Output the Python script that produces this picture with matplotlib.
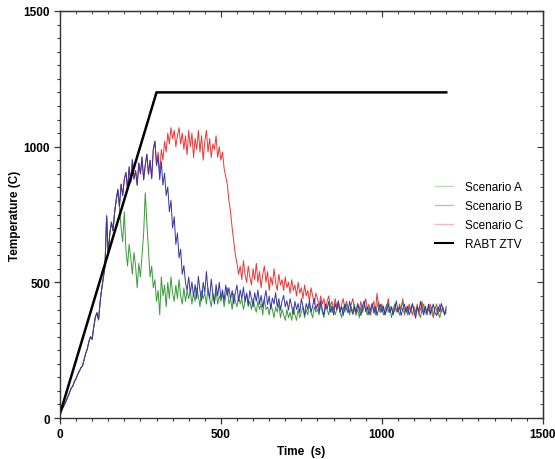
import numpy as np
import matplotlib; matplotlib.use("Agg")
import matplotlib.pyplot as plt
from matplotlib.lines import Line2D
from matplotlib.ticker import MultipleLocator

plt.rcParams["font.family"] = ["Liberation Sans", "DejaVu Sans"]

STEP = 5  # sample spacing of the scenario traces, s

# Scenario B (blue), t = 0, 5, ... 1200 s
scen_b = [
    20, 28, 40, 52, 65, 80, 95, 110, 118, 135,
    145, 160, 172, 185, 192, 215, 238, 255, 282, 300,
    290, 335, 372, 388, 362, 430, 478, 520, 560, 745,
    600, 680, 722, 690, 760, 805, 842, 780, 862, 820,
    880, 905, 842, 925, 868, 952, 880, 912, 858, 940,
    900, 962, 878, 932, 972, 898, 950, 882, 990, 1020,
    930, 962, 878, 945, 858, 902, 820, 852, 760, 802,
    700, 742, 640, 682, 590, 622, 530, 562, 500, 470,
    520, 460, 502, 448, 492, 440, 522, 470, 432, 500,
    462, 540, 470, 440, 512, 458, 420, 492, 450, 500,
    440, 472, 430, 490, 452, 480, 438, 470, 420, 462,
    490, 430, 472, 440, 482, 428, 460, 418, 470, 440,
    410, 462, 430, 472, 420, 452, 408, 440, 470, 418,
    450, 400, 442, 420, 462, 410, 440, 398, 432, 452,
    410, 432, 398, 440, 410, 382, 430, 400, 422, 388,
    440, 410, 380, 422, 400, 432, 390, 412, 442, 400,
    420, 390, 432, 400, 380, 420, 402, 430, 390, 412,
    380, 422, 398, 432, 390, 410, 378, 420, 402, 388,
    430, 400, 382, 410, 390, 422, 398, 378, 412, 432,
    392, 410, 380, 402, 422, 388, 410, 378, 402, 420,
    390, 412, 380, 400, 422, 388, 410, 382, 400, 432,
    392, 410, 378, 402, 420, 390, 412, 380, 398, 422,
    390, 368, 410, 392, 430, 400, 380, 412, 388, 420,
    380, 402, 420, 388, 378, 410, 392, 422, 400, 382,
    410,
]

# Scenario A (green)
scen_a = [
    20, 28, 40, 52, 65, 80, 95, 110, 118, 135,
    145, 160, 172, 185, 192, 215, 238, 255, 282, 300,
    290, 335, 372, 388, 362, 430, 478, 520, 560, 745,
    600, 680, 722, 690, 760, 805, 842, 770, 700, 650,
    760, 620, 560, 640, 590, 530, 610, 560, 480, 570,
    520, 600, 680, 830, 720, 620, 520, 560, 480, 510,
    430, 470, 380, 520, 450, 490, 410, 500, 440, 520,
    460, 430, 490, 440, 510, 450, 420, 480, 430, 470,
    440, 470, 420, 460, 430, 480, 450, 410, 470, 440,
    460, 420, 480, 440, 410, 460, 430, 470, 420, 450,
    430, 460, 410, 450, 480, 420, 440, 400, 460, 430,
    410, 450, 420, 440, 400, 430, 460, 410, 430, 400,
    440, 410, 390, 430, 400, 420, 380, 440, 400, 410,
    380, 420, 400, 370, 410, 390, 420, 370, 400, 380,
    360, 400, 370, 390, 360, 410, 380, 360, 400, 370,
    390, 410, 370, 400, 380, 420, 390, 370, 410, 390,
    400, 380, 420, 390, 370, 410, 400, 380, 420, 390,
    410, 380, 400, 420, 390, 370, 410, 390, 420, 400,
    380, 410, 390, 420, 380, 400, 370, 410, 390, 420,
    400, 380, 410, 390, 420, 400, 380, 410, 430, 390,
    410, 380, 400, 420, 390, 410, 370, 400, 420, 390,
    400, 380, 410, 430, 390, 400, 380, 410, 390, 420,
    400, 380, 410, 390, 370, 400, 420, 390, 380, 410,
    390, 410, 380, 400, 420, 390, 370, 400, 410, 380,
    390,
]

# Scenario C (red)
scen_c = [
    20, 28, 40, 52, 65, 80, 95, 110, 118, 135,
    145, 160, 172, 185, 192, 215, 238, 255, 282, 300,
    290, 335, 372, 388, 362, 430, 478, 520, 560, 745,
    600, 680, 722, 690, 760, 805, 842, 780, 862, 820,
    880, 905, 842, 925, 868, 952, 880, 912, 858, 940,
    900, 962, 878, 932, 972, 898, 950, 882, 990, 1020,
    940, 980, 900, 990, 950, 1020, 980, 1050, 1010, 1070,
    1030, 1060, 1000, 1040, 1070, 1010, 1050, 990, 1040, 970,
    1060, 1000, 1050, 960, 1030, 990, 1060, 980, 1040, 950,
    1020, 1060, 980, 1030, 960, 1010, 990, 1040, 960, 1000,
    950, 980, 920, 890, 860, 800, 760, 700, 650, 600,
    570, 530, 560, 510, 580, 530, 500, 560, 520, 490,
    550, 510, 570, 500, 540, 480, 530, 560, 500, 540,
    470, 520, 490, 550, 500, 470, 530, 490, 510, 470,
    520, 480, 500, 460, 510, 470, 490, 450, 500, 460,
    480, 440, 490, 450, 470, 430, 480, 450, 420, 460,
    440, 410, 450, 420, 440, 400, 430, 450, 410, 430,
    400, 440, 410, 430, 390, 420, 440, 400, 430, 410,
    390, 420, 440, 400, 380, 420, 400, 430, 390, 410,
    440, 400, 420, 380, 410, 430, 390, 460, 410, 390,
    420, 400, 380, 410, 440, 390, 410, 380, 420, 400,
    390, 420, 400, 440, 380, 410, 390, 420, 400, 380,
    410, 390, 420, 380, 400, 430, 390, 410, 380, 400,
    420, 390, 370, 410, 400, 380, 420, 390, 400, 380,
    400,
]

# RABT ZTV design curve
rabt_t = [0, 300, 1200]
rabt_temp = [15, 1200, 1200]

labels = ["Scenario A", "Scenario B", "Scenario C", "RABT ZTV"]
colors = ["#3a9a3a", "#3535a8", "#ee3535", "black"]

fig = plt.figure(figsize=(5.55, 4.6), dpi=100)
ax = fig.add_axes([0.108, 0.089, 0.87, 0.885])

# red first, blue on top (blue hides the shared early rise)
for vals, c in [(scen_c, colors[2]), (scen_a, colors[0]), (scen_b, colors[1])]:
    t = STEP * np.arange(len(vals))
    ax.plot(t, vals, color=c, lw=0.7)
ax.plot(rabt_t, rabt_temp, color="black", lw=1.8)

ax.set_xlim(0, 1500)
ax.set_ylim(0, 1500)
ax.set_xticks([0, 500, 1000, 1500])
ax.set_yticks([0, 500, 1000, 1500])
ax.xaxis.set_minor_locator(MultipleLocator(50))
ax.yaxis.set_minor_locator(MultipleLocator(50))
ax.tick_params(which="major", length=4, width=0.9, color="#333333", labelsize=8.5, pad=3)
ax.tick_params(which="minor", length=2.5, width=0.8, color="#333333")
for lab in ax.get_xticklabels() + ax.get_yticklabels():
    lab.set_fontweight("bold")
for s in ax.spines.values():
    s.set_color("#333333"); s.set_linewidth(1.0)

# mirrored inward ticks on top and right
top = ax.secondary_xaxis("top")
top.set_xticks([0, 500, 1000, 1500])
top.xaxis.set_minor_locator(MultipleLocator(50))
top.tick_params(which="both", direction="in", labeltop=False, color="#333333")
top.tick_params(which="major", length=4); top.tick_params(which="minor", length=2.5)
right = ax.secondary_yaxis("right")
right.set_yticks([0, 500, 1000, 1500])
right.yaxis.set_minor_locator(MultipleLocator(50))
right.tick_params(which="both", direction="in", labelright=False, color="#333333")
right.tick_params(which="major", length=4); right.tick_params(which="minor", length=2.5)

ax.set_xlabel("Time  (s)", fontsize=8.5, fontweight="bold", labelpad=4)
ax.set_ylabel("Temperature (C)", fontsize=8.5, fontweight="bold", labelpad=2)

handles = [Line2D([], [], color=c, lw=1.0, alpha=0.35) for c in colors[:3]]
handles.append(Line2D([], [], color="black", lw=1.5))
ax.legend(handles, labels, loc="center left", bbox_to_anchor=(0.755, 0.497),
          frameon=False, fontsize=8.5, handlelength=1.5, handletextpad=1.0,
          labelspacing=0.6)

fig.savefig("out.png", dpi=100)
